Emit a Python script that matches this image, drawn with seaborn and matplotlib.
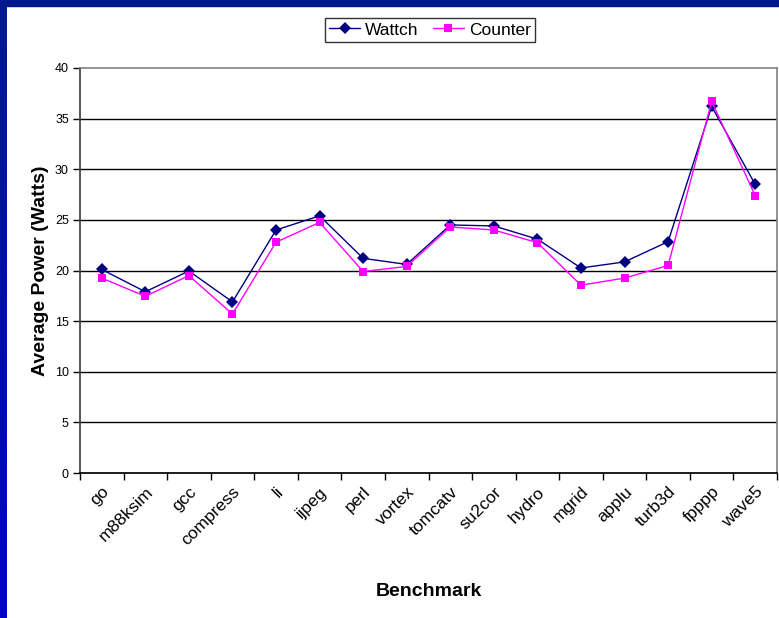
import matplotlib
matplotlib.use("Agg")
import matplotlib.pyplot as plt
import seaborn as sns
import pandas as pd
import numpy as np
from matplotlib.patches import Rectangle

benchmarks = ["go", "m88ksim", "gcc", "compress", "li", "ijpeg", "perl", "vortex",
              "tomcatv", "su2cor", "hydro", "mgrid", "applu", "turb3d", "fpppp", "wave5"]
wattch = [20.1, 17.9, 19.95, 16.9, 24.0, 25.4, 21.2, 20.6,
          24.5, 24.4, 23.1, 20.25, 20.85, 22.85, 36.2, 28.5]
counter = [19.25, 17.45, 19.5, 15.7, 22.8, 24.75, 19.9, 20.4,
           24.3, 24.0, 22.75, 18.55, 19.25, 20.5, 36.7, 27.4]
yticks = [0, 5, 10, 15, 20, 25, 30, 35, 40]

sns.set_theme(style="white")
plt.rcParams['font.family'] = ['Liberation Sans', 'DejaVu Sans']
plt.rcParams['text.color'] = 'black'
plt.rcParams['axes.labelcolor'] = 'black'
plt.rcParams['xtick.color'] = 'black'
plt.rcParams['ytick.color'] = 'black'

W, H = 779, 618
fig = plt.figure(figsize=(W / 100, H / 100), dpi=100)
fig.patch.set_facecolor("white")

# slide background strips
fig.patches.append(Rectangle((0, 1 - 6 / H), 1, 6 / H, transform=fig.transFigure,
                             color="#001a8c", zorder=0))
for i in range(40):
    y0 = i / 40
    c = np.array([0x00, 0x00, 0xcc]) * (1 - y0) + np.array([0x00, 0x1a, 0x8c]) * y0
    fig.patches.append(Rectangle((0, y0), 7 / W, 1 / 40 + 0.001, transform=fig.transFigure,
                                 color=c / 255, zorder=0, lw=0))

left, right, top, bottom = 80, 777, 68, 473
ax = fig.add_axes([left / W, 1 - bottom / H, (right - left) / W, (bottom - top) / H])

x = np.arange(len(benchmarks))
df = pd.DataFrame({"x": np.concatenate([x, x]),
                   "val": wattch + counter,
                   "series": ["Wattch"] * len(x) + ["Counter"] * len(x)})

sns.lineplot(data=df, x="x", y="val", hue="series", style="series",
             palette={"Wattch": "#000080", "Counter": "#ff00ff"},
             markers={"Wattch": "D", "Counter": "s"},
             dashes={"Wattch": "", "Counter": ""},
             markersize=6, linewidth=1.0, markeredgewidth=0, ax=ax, zorder=3)

ax.set_xlim(-0.5, len(benchmarks) - 0.5)
ax.set_ylim(0, 40)
ax.set_yticks(yticks)
ax.set_yticklabels([str(v) for v in yticks], fontsize=9)
for v in yticks[1:-1]:
    ax.axhline(v, color="black", lw=1.0, zorder=1)

ax.set_xticks(x)
ax.set_xticklabels(benchmarks, rotation=45, ha="right", rotation_mode="anchor", fontsize=12.5)
ax.set_xticks(np.arange(-0.5, len(benchmarks)), minor=True)
ax.tick_params(axis="x", which="major", length=0, pad=8)
ax.tick_params(axis="x", which="minor", length=5, width=1, color="black", direction="out", bottom=True)
ax.tick_params(axis="y", length=5, width=1, color="black", direction="out", left=True, pad=3)

for s in ["top", "right"]:
    ax.spines[s].set_color("#808080")
    ax.spines[s].set_linewidth(1.2)
ax.spines["left"].set_color("#404040")
ax.spines["bottom"].set_color("black")

ax.set_xlabel("Benchmark", fontsize=14, fontweight="bold", labelpad=25)
ax.set_ylabel("Average Power (Watts)", fontsize=14, fontweight="bold", labelpad=4)

handles, labels = ax.get_legend_handles_labels()
leg = fig.legend(handles, labels, loc="center", bbox_to_anchor=(430 / W, 1 - 30 / H),
                 ncol=2, fontsize=12.5, frameon=True, fancybox=False, edgecolor="black",
                 handlelength=1.8, handletextpad=0.3, columnspacing=0.8,
                 borderpad=0.25)
leg.get_frame().set_linewidth(1.0)
if ax.get_legend():
    ax.get_legend().remove()

fig.savefig("out.png", dpi=100)
